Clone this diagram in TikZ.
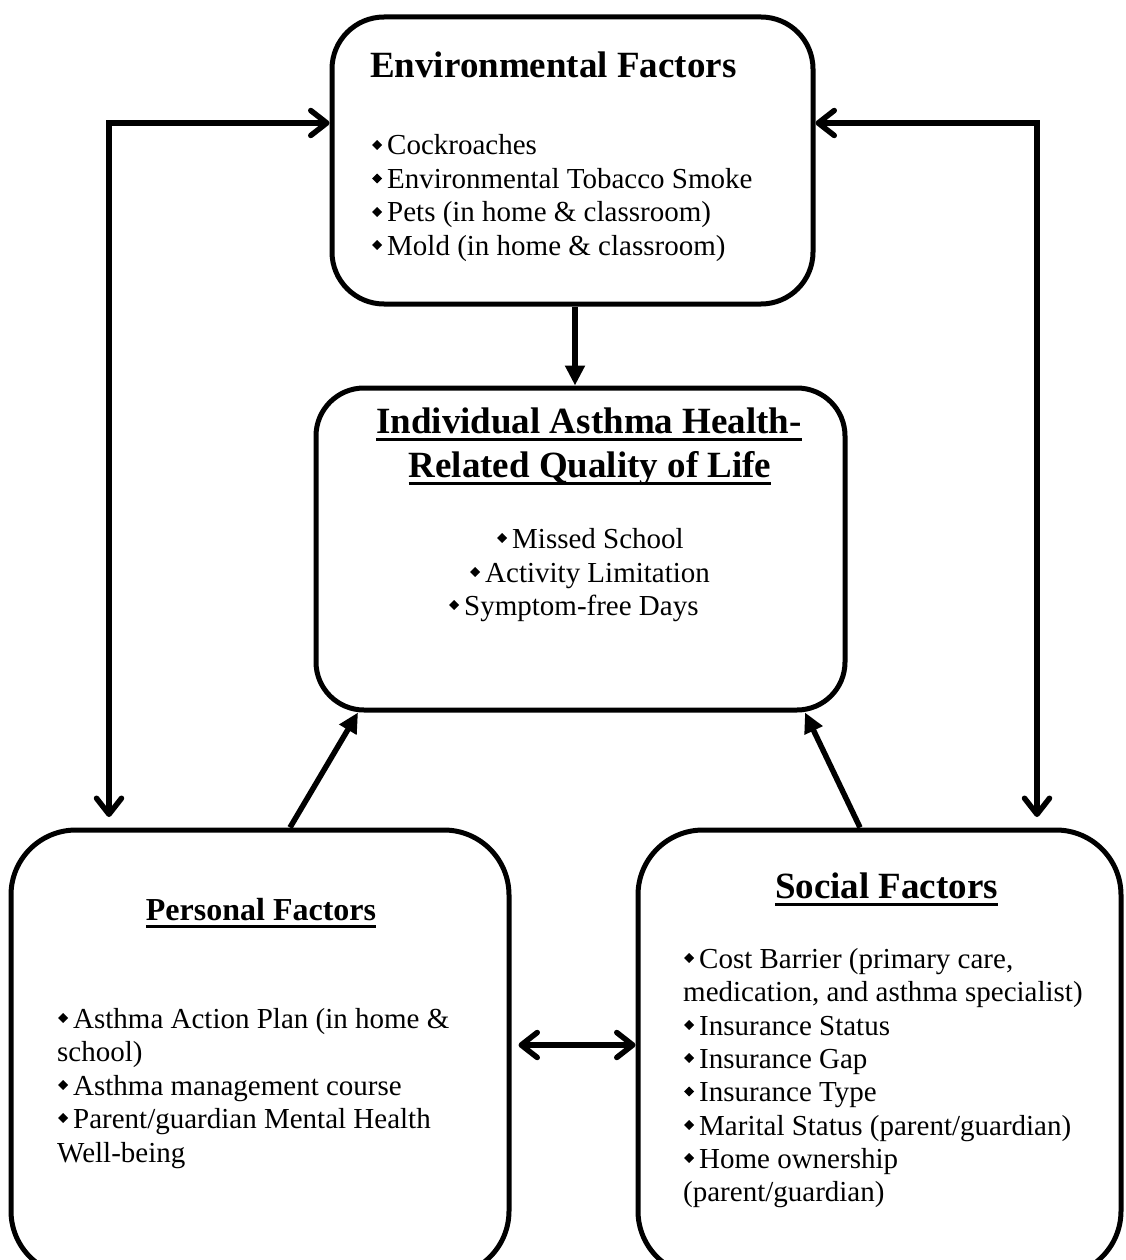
\documentclass[tikz,border=0pt]{standalone}
\usepackage{fontspec}
\setmainfont{Liberation Serif}
\usetikzlibrary{arrows.meta}
\newcommand\dia{\makebox[15pt][l]{\raisebox{6.5pt}{\rotatebox[origin=c]{45}{\rule{7pt}{7pt}}}}}
\newcommand\myul[1]{\setbox0\hbox{#1}\rlap{\rule[-7.75pt]{\wd0}{2.7pt}}\box0}
\tikzset{
  box/.style={draw, line width=5pt, inner sep=0pt},
  txt/.style={inner sep=0pt, font=\fontsize{29}{33.4}\selectfont},
  ttl/.style={inner sep=0pt, font=\fontsize{37}{44}\selectfont\bfseries},
  tri/.style={line width=5.5pt, -{Triangle[length=20pt,width=19pt]}},
  barb/.style={line width=5.5pt, line join=miter, {Straight Barb[length=16pt,width=25pt,round]}-{Straight Barb[length=16pt,width=25pt,round]}}
}
\begin{document}
\begin{tikzpicture}[x=1pt,y=-1pt]
\useasboundingbox (0,0) rectangle (1125,1260);
\clip (0,0) rectangle (1125,1260);
% boxes
\node[box, rounded corners=52pt, minimum width=481pt, minimum height=287pt] (env) at (572.5,160.5) {};
\node[box, rounded corners=48pt, minimum width=529pt, minimum height=322pt] (ind) at (580.5,549) {};
\node[box, rounded corners=65pt, minimum width=498pt, minimum height=446pt] (pers) at (260,1053) {};
\node[box, rounded corners=65pt, minimum width=483pt, minimum height=446pt] (soc) at (879.5,1053) {};
% environmental
\node[ttl, anchor=base west] (envt) at (370,78) {Environmental Factors};
\node[txt, anchor=base west] (e1) at (372,155) {\dia Cockroaches};
\node[txt, anchor=base west] (e2) at (372,188.5) {\dia Environmental Tobacco Smoke};
\node[txt, anchor=base west] (e3) at (372,222) {\dia Pets (in home \& classroom)};
\node[txt, anchor=base west] (e4) at (372,255) {\dia Mold (in home \& classroom)};
% individual
\node[ttl, anchor=base] (indt1) at (589,433) {\myul{Individual Asthma Health-}};
\node[ttl, anchor=base] (indt2) at (590,477) {\myul{Related Quality of Life}};
\node[txt, anchor=base west] (i1) at (497,548) {\dia Missed School};
\node[txt, anchor=base west] (i2) at (470,582) {\dia Activity Limitation};
\node[txt, anchor=base west] (i3) at (449,615) {\dia Symptom-free Days};
% personal
\node[inner sep=0pt, font=\fontsize{32}{38}\selectfont\bfseries, anchor=base] (perst) at (261,920) {\myul{Personal Factors}};
\node[txt, anchor=base west] (p1) at (58,1028) {\dia Asthma Action Plan (in home \&};
\node[txt, anchor=base west] (p2) at (57,1061.5) {school)};
\node[txt, anchor=base west] (p3) at (58,1095) {\dia Asthma management course};
\node[txt, anchor=base west] (p4) at (58,1128) {\dia Parent/guardian Mental Health};
\node[txt, anchor=base west] (p5) at (57,1162) {Well-being};
% social
\node[ttl, anchor=base] (soct) at (886.5,898) {\myul{Social Factors}};
\node[txt, anchor=base west] (s1) at (684,968) {\dia Cost Barrier (primary care,};
\node[txt, anchor=base west] (s2) at (683,1001.5) {medication, and asthma specialist)};
\node[txt, anchor=base west] (s3) at (684,1035) {\dia Insurance Status};
\node[txt, anchor=base west] (s4) at (684,1068) {\dia Insurance Gap};
\node[txt, anchor=base west] (s5) at (684,1101.5) {\dia Insurance Type};
\node[txt, anchor=base west] (s6) at (684,1135) {\dia Marital Status (parent/guardian)};
\node[txt, anchor=base west] (s7) at (684,1168) {\dia Home ownership};
\node[txt, anchor=base west] (s8) at (683,1201.5) {(parent/guardian)};
% connector points
\coordinate (lc) at (109,123);
\coordinate (ltip) at (109,817);
\coordinate (rc) at (1037,123);
\coordinate (rtip) at (1037,817);
\coordinate (ca) at (575,0);
\coordinate (pl) at (290,0);
\coordinate (il) at (358,0);
\coordinate (sr) at (860,0);
\coordinate (ir) at (805,0);
\coordinate (mid) at (0,1045);
% connectors
\draw[tri] (env.south -| ca) -- (ind.north -| ca);
\draw[tri] (pers.north -| pl) -- (ind.south -| il);
\draw[tri] (soc.north -| sr) -- (ind.south -| ir);
\draw[barb] (env.west |- lc) -- (lc) -- (ltip);
\draw[barb] (env.east |- rc) -- (rc) -- (rtip);
\draw[barb, shorten <=7pt] (pers.east |- mid) -- (soc.west |- mid);
\end{tikzpicture}
\end{document}
